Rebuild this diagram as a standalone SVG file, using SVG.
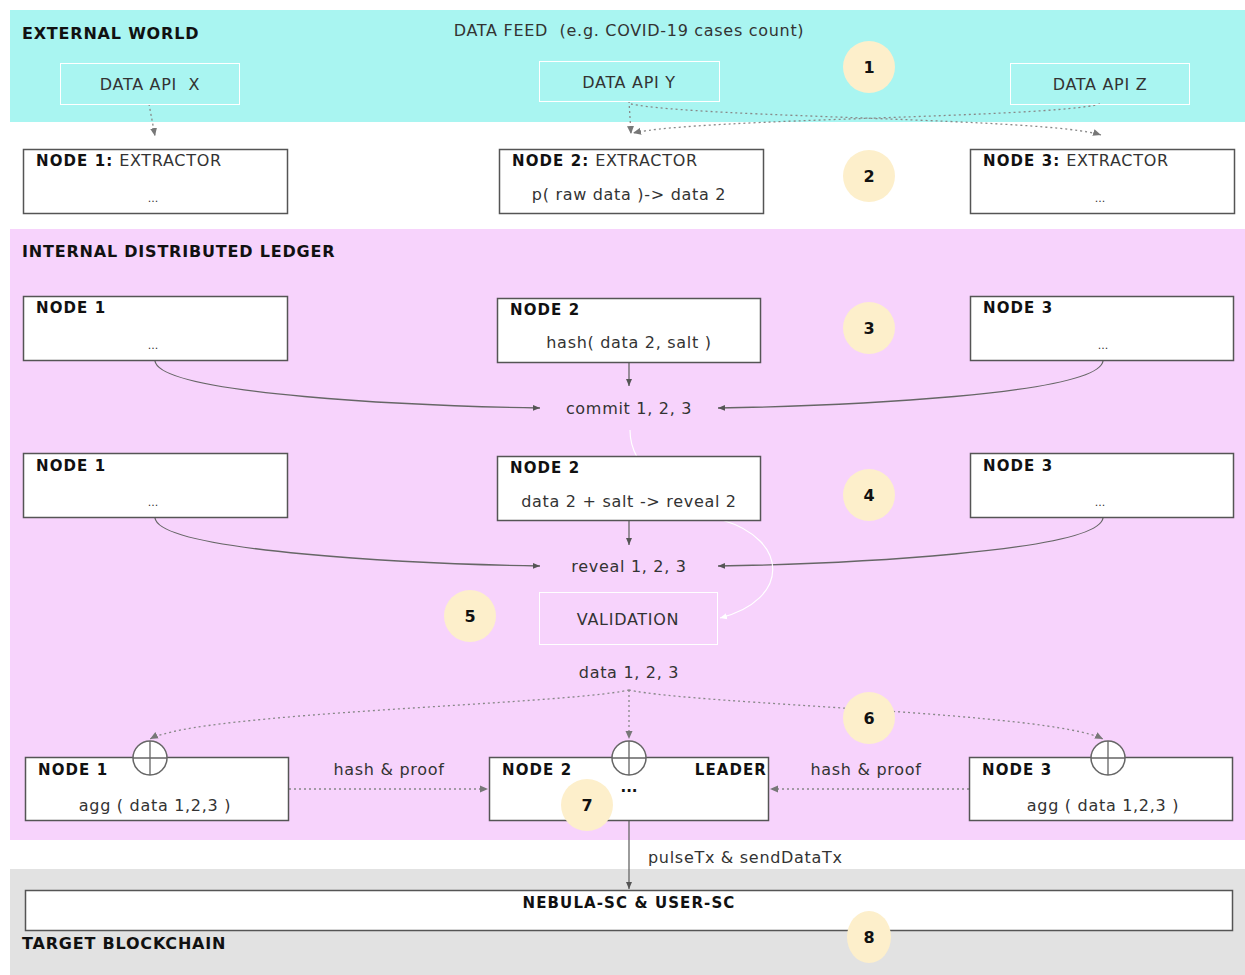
<svg xmlns="http://www.w3.org/2000/svg" width="1245" height="975" viewBox="0 0 1245 975">
<style>
text{font-family:"DejaVu Sans","Liberation Sans",sans-serif;fill:#333;font-size:16px;letter-spacing:0.7px}
.b{font-weight:bold;fill:#111;font-size:15px;letter-spacing:1.1px}
.h{font-weight:bold;fill:#111;font-size:16px;letter-spacing:0.8px}
.m{text-anchor:middle}
.box{fill:#fff;stroke:#555;stroke-width:1.5}
.ghost{fill:none;stroke:#fff;stroke-width:1}
.num{fill:#fdefcb}
.nt{font-weight:bold;fill:#111;font-size:16px;letter-spacing:0;text-anchor:middle}
.solid{fill:none;stroke:#666;stroke-width:1.3}
.dot{fill:none;stroke:#888;stroke-width:1.3;stroke-dasharray:2 3}
.wl{fill:none;stroke:#fff;stroke-width:1.2}
.plus{fill:#fff;stroke:#666;stroke-width:1.5}
.ell{font-size:11px;letter-spacing:0}
</style>
<defs>
<marker id="a" markerWidth="8" markerHeight="8" refX="7" refY="4" orient="auto" markerUnits="userSpaceOnUse"><path d="M0,1 L7,4 L0,7 Z" fill="#555"/></marker>
<marker id="ad" markerWidth="10" markerHeight="10" refX="8" refY="5" orient="auto" markerUnits="userSpaceOnUse"><path d="M0,1.5 L8,5 L0,8.5 Z" fill="#777"/></marker>
<marker id="aw" markerWidth="8" markerHeight="8" refX="7" refY="4" orient="auto" markerUnits="userSpaceOnUse"><path d="M0,1 L7,4 L0,7 Z" fill="#fff"/></marker>
</defs>
<rect width="1245" height="975" fill="#fff"/>
<g id="bands">
<rect x="10" y="10" width="1235" height="112" fill="#a9f5f1"/>
<rect x="10" y="229" width="1235" height="611" fill="#f7d3fc"/>
<rect x="10" y="869" width="1235" height="106" fill="#e2e2e2"/>
<text class="h" x="22" y="39">EXTERNAL WORLD</text>
<text x="629" y="36" class="m">DATA FEED&#160; (e.g. COVID-19 cases count)</text>
<text class="h" x="22" y="257">INTERNAL DISTRIBUTED LEDGER</text>
<text class="h" x="22" y="949">TARGET BLOCKCHAIN</text>
</g>
<g id="connectors">
<path class="dot" d="M149,104 L155,136" marker-end="url(#ad)"/>
<path class="dot" d="M629,101 L631,134" marker-end="url(#ad)"/>
<path class="dot" d="M1100,104 C1050,118 700,118 633,133" marker-end="url(#ad)"/>
<path class="dot" d="M631,104 C700,118 1050,118 1101,135" marker-end="url(#ad)"/>
<path class="solid" d="M155,361 C160,395 420,406 540,408" marker-end="url(#a)"/>
<path class="solid" d="M1103,361 C1098,395 840,406 718,408" marker-end="url(#a)"/>
<path class="solid" d="M629,363 L629,386" marker-end="url(#a)"/>
<path class="wl" d="M630,430 C630,440 632,448 637,457"/>
<path class="solid" d="M155,518 C160,552 420,564 540,566" marker-end="url(#a)"/>
<path class="solid" d="M1103,518 C1098,552 840,564 718,566" marker-end="url(#a)"/>
<path class="solid" d="M629,521 L629,545" marker-end="url(#a)"/>
<path class="wl" d="M722,520 C790,540 790,600 720,618" marker-end="url(#aw)"/>
<path class="dot" d="M629,690 C560,705 200,712 150,739" marker-end="url(#ad)"/>
<path class="dot" d="M629,690 L629,739" marker-end="url(#ad)"/>
<path class="dot" d="M629,690 C700,705 1050,712 1103,739" marker-end="url(#ad)"/>
<path class="dot" d="M289,789 L488,789" marker-end="url(#ad)"/>
<path class="dot" d="M969,789 L770,789" marker-end="url(#ad)"/>
<path class="solid" d="M629,800 L629,889" marker-end="url(#a)"/>
<text x="389" y="775" class="m">hash &amp; proof</text>
<text x="866" y="775" class="m">hash &amp; proof</text>
<text x="648" y="863">pulseTx &amp; sendDataTx</text>
<text x="629" y="414" class="m">commit 1, 2, 3</text>
<text x="629" y="572" class="m">reveal 1, 2, 3</text>
<text x="629" y="678" class="m">data 1, 2, 3</text>
</g>
<g id="api-x"><rect class="ghost" x="60.5" y="63.5" width="179" height="41"/><text x="150" y="90" class="m">DATA API&#160; X</text></g>
<g id="api-y"><rect class="ghost" x="539.5" y="61.5" width="180" height="40"/><text x="629" y="88" class="m">DATA API Y</text></g>
<g id="api-z"><rect class="ghost" x="1010.5" y="63.5" width="179" height="41"/><text x="1100" y="90" class="m">DATA API Z</text></g>
<g id="ext1"><rect class="box" x="23.5" y="149.5" width="264" height="64"/><text x="36" y="166"><tspan class="b">NODE 1:</tspan> EXTRACTOR</text><text x="153" y="202" class="m ell">...</text></g>
<g id="ext2"><rect class="box" x="499.5" y="149.5" width="264" height="64"/><text x="512" y="166"><tspan class="b">NODE 2:</tspan> EXTRACTOR</text><text x="629" y="200" class="m">p( raw data )-&gt; data 2</text></g>
<g id="ext3"><rect class="box" x="970.5" y="149.5" width="264" height="64"/><text x="983" y="166"><tspan class="b">NODE 3:</tspan> EXTRACTOR</text><text x="1100" y="202" class="m ell">...</text></g>
<g id="c1n1"><rect class="box" x="23.5" y="296.5" width="264" height="64"/><text class="b" x="36" y="313">NODE 1</text><text x="153" y="349" class="m ell">...</text></g>
<g id="c1n2"><rect class="box" x="497.5" y="298.5" width="263" height="64"/><text class="b" x="510" y="315">NODE 2</text><text x="629" y="348" class="m">hash( data 2, salt )</text></g>
<g id="c1n3"><rect class="box" x="970.5" y="296.5" width="263" height="64"/><text class="b" x="983" y="313">NODE 3</text><text x="1103" y="349" class="m ell">...</text></g>
<g id="r1n1"><rect class="box" x="23.5" y="453.5" width="264" height="64"/><text class="b" x="36" y="471">NODE 1</text><text x="153" y="506" class="m ell">...</text></g>
<g id="r1n2"><rect class="box" x="497.5" y="456.5" width="263" height="64"/><text class="b" x="510" y="473">NODE 2</text><text x="629" y="507" class="m">data 2 + salt -&gt; reveal 2</text></g>
<g id="r1n3"><rect class="box" x="970.5" y="453.5" width="263" height="64"/><text class="b" x="983" y="471">NODE 3</text><text x="1100" y="506" class="m ell">...</text></g>
<g id="validation"><rect class="ghost" x="539.5" y="592.5" width="178" height="52"/><text x="628" y="625" class="m">VALIDATION</text></g>
<g id="agg1"><rect class="box" x="25.5" y="757.5" width="263" height="63"/><text class="b" x="38" y="775">NODE 1</text><text x="155" y="811" class="m">agg ( data 1,2,3 )</text><circle class="plus" cx="150" cy="758" r="17"/><path class="solid" d="M150,741 V775 M133,758 H167"/></g>
<g id="agg2"><rect class="box" x="489.5" y="757.5" width="279" height="63"/><text class="b" x="502" y="775">NODE 2</text><text class="b" x="767" y="775" text-anchor="end">LEADER</text><text class="b m" x="629" y="792" style="letter-spacing:0">...</text><circle class="plus" cx="629" cy="758" r="17"/><path class="solid" d="M629,741 V775 M612,758 H646"/></g>
<g id="agg3"><rect class="box" x="969.5" y="757.5" width="263" height="63"/><text class="b" x="982" y="775">NODE 3</text><text x="1103" y="811" class="m">agg ( data 1,2,3 )</text><circle class="plus" cx="1108" cy="758" r="17"/><path class="solid" d="M1108,741 V775 M1091,758 H1125"/></g>
<g id="nebula"><rect class="box" x="25.5" y="890.5" width="1207" height="40"/><text class="b m" x="629" y="908">NEBULA-SC &amp; USER-SC</text></g>
<g id="steps">
<circle class="num" cx="869" cy="67" r="26"/><text class="nt" x="869" y="73">1</text>
<circle class="num" cx="869" cy="176" r="26"/><text class="nt" x="869" y="182">2</text>
<circle class="num" cx="869" cy="328" r="26"/><text class="nt" x="869" y="334">3</text>
<circle class="num" cx="869" cy="495" r="26"/><text class="nt" x="869" y="501">4</text>
<circle class="num" cx="470" cy="616" r="26"/><text class="nt" x="470" y="622">5</text>
<circle class="num" cx="869" cy="718" r="26"/><text class="nt" x="869" y="724">6</text>
<circle class="num" cx="587" cy="805" r="26"/><text class="nt" x="587" y="811">7</text>
<ellipse class="num" cx="869" cy="937" rx="22" ry="26"/><text class="nt" x="869" y="943">8</text>
</g>
</svg>
